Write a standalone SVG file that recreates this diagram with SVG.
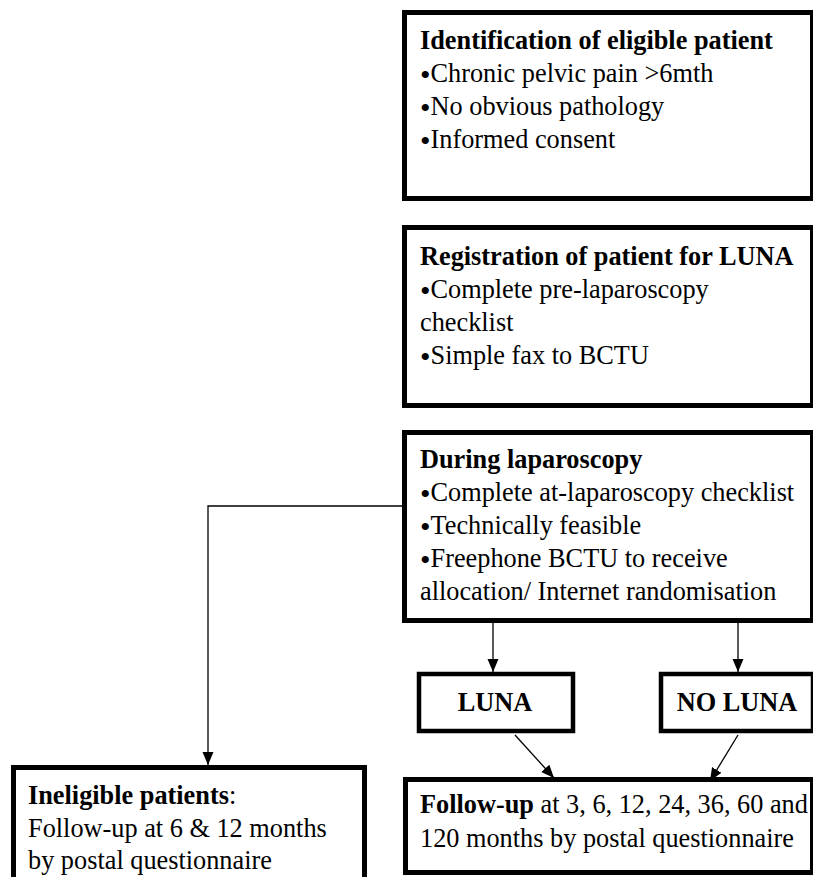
<svg xmlns="http://www.w3.org/2000/svg" width="813" height="877" viewBox="0 0 813 877">
<style>
text{font-family:"Liberation Serif","Times New Roman",serif;font-size:26.3px;fill:#000}
.b{font-weight:bold}
.bu{font-size:30px}
.box{fill:#fff;stroke:#000;stroke-width:5}
.sbox{fill:#fff;stroke:#000;stroke-width:4.5}
.con{fill:none;stroke:#000;stroke-width:1.3}
</style>
<defs>
<marker id="ah" markerUnits="userSpaceOnUse" markerWidth="14" markerHeight="14" viewBox="0 0 14 14" refX="13" refY="7" orient="auto">
<path d="M0,1.5 L13,7 L0,12.5 Z" fill="#000"/>
</marker>
</defs>
<rect width="813" height="877" fill="#fff"/>
<g id="connectors">
<polyline class="con" points="403,506 208,506 208,765" marker-end="url(#ah)"/>
<line class="con" x1="493" y1="623" x2="493" y2="672" marker-end="url(#ah)"/>
<line class="con" x1="738" y1="623" x2="738" y2="672" marker-end="url(#ah)"/>
<line class="con" x1="515" y1="735" x2="554" y2="778" marker-end="url(#ah)"/>
<line class="con" x1="738" y1="735" x2="710" y2="781" marker-end="url(#ah)"/>
</g>
<g id="identification">
<rect class="box" x="404.5" y="12.5" width="408" height="186"/>
<text x="420" y="49" class="b">Identification of eligible patient</text>
<text x="420" y="82"><tspan class="bu" dy="3">•</tspan><tspan dy="-3">Chronic pelvic pain &gt;6mth</tspan></text>
<text x="420" y="115"><tspan class="bu" dy="3">•</tspan><tspan dy="-3">No obvious pathology</tspan></text>
<text x="420" y="148"><tspan class="bu" dy="3">•</tspan><tspan dy="-3">Informed consent</tspan></text>
</g>
<g id="registration">
<rect class="box" x="404.5" y="227.5" width="408" height="178"/>
<text x="420" y="265" class="b">Registration of patient for LUNA</text>
<text x="420" y="298"><tspan class="bu" dy="3">•</tspan><tspan dy="-3">Complete pre-laparoscopy</tspan></text>
<text x="420" y="331">checklist</text>
<text x="420" y="364"><tspan class="bu" dy="3">•</tspan><tspan dy="-3">Simple fax to BCTU</tspan></text>
</g>
<g id="during">
<rect class="box" x="404.5" y="432.5" width="408" height="188"/>
<text x="420" y="468" class="b">During laparoscopy</text>
<text x="420" y="501"><tspan class="bu" dy="3">•</tspan><tspan dy="-3">Complete at-laparoscopy checklist</tspan></text>
<text x="420" y="534"><tspan class="bu" dy="3">•</tspan><tspan dy="-3">Technically feasible</tspan></text>
<text x="420" y="567"><tspan class="bu" dy="3">•</tspan><tspan dy="-3">Freephone BCTU to receive</tspan></text>
<text x="420" y="600">allocation/ Internet randomisation</text>
</g>
<g id="luna">
<rect class="sbox" x="419" y="674" width="154" height="57"/>
<text x="495" y="711" class="b" text-anchor="middle">LUNA</text>
</g>
<g id="noluna">
<rect class="sbox" x="661" y="674" width="152" height="57"/>
<text x="737" y="711" class="b" text-anchor="middle">NO LUNA</text>
</g>
<g id="followup">
<rect class="box" x="405.5" y="779.5" width="407" height="93"/>
<text x="420" y="813"><tspan class="b">Follow-up</tspan> at 3, 6, 12, 24, 36, 60 and</text>
<text x="420" y="847">120 months by postal questionnaire</text>
</g>
<g id="ineligible">
<rect class="box" x="13.5" y="767.5" width="351" height="130"/>
<text x="28" y="804"><tspan class="b">Ineligible patients</tspan>:</text>
<text x="28" y="837">Follow-up at 6 &amp; 12 months</text>
<text x="28" y="869">by postal questionnaire</text>
</g>
</svg>
